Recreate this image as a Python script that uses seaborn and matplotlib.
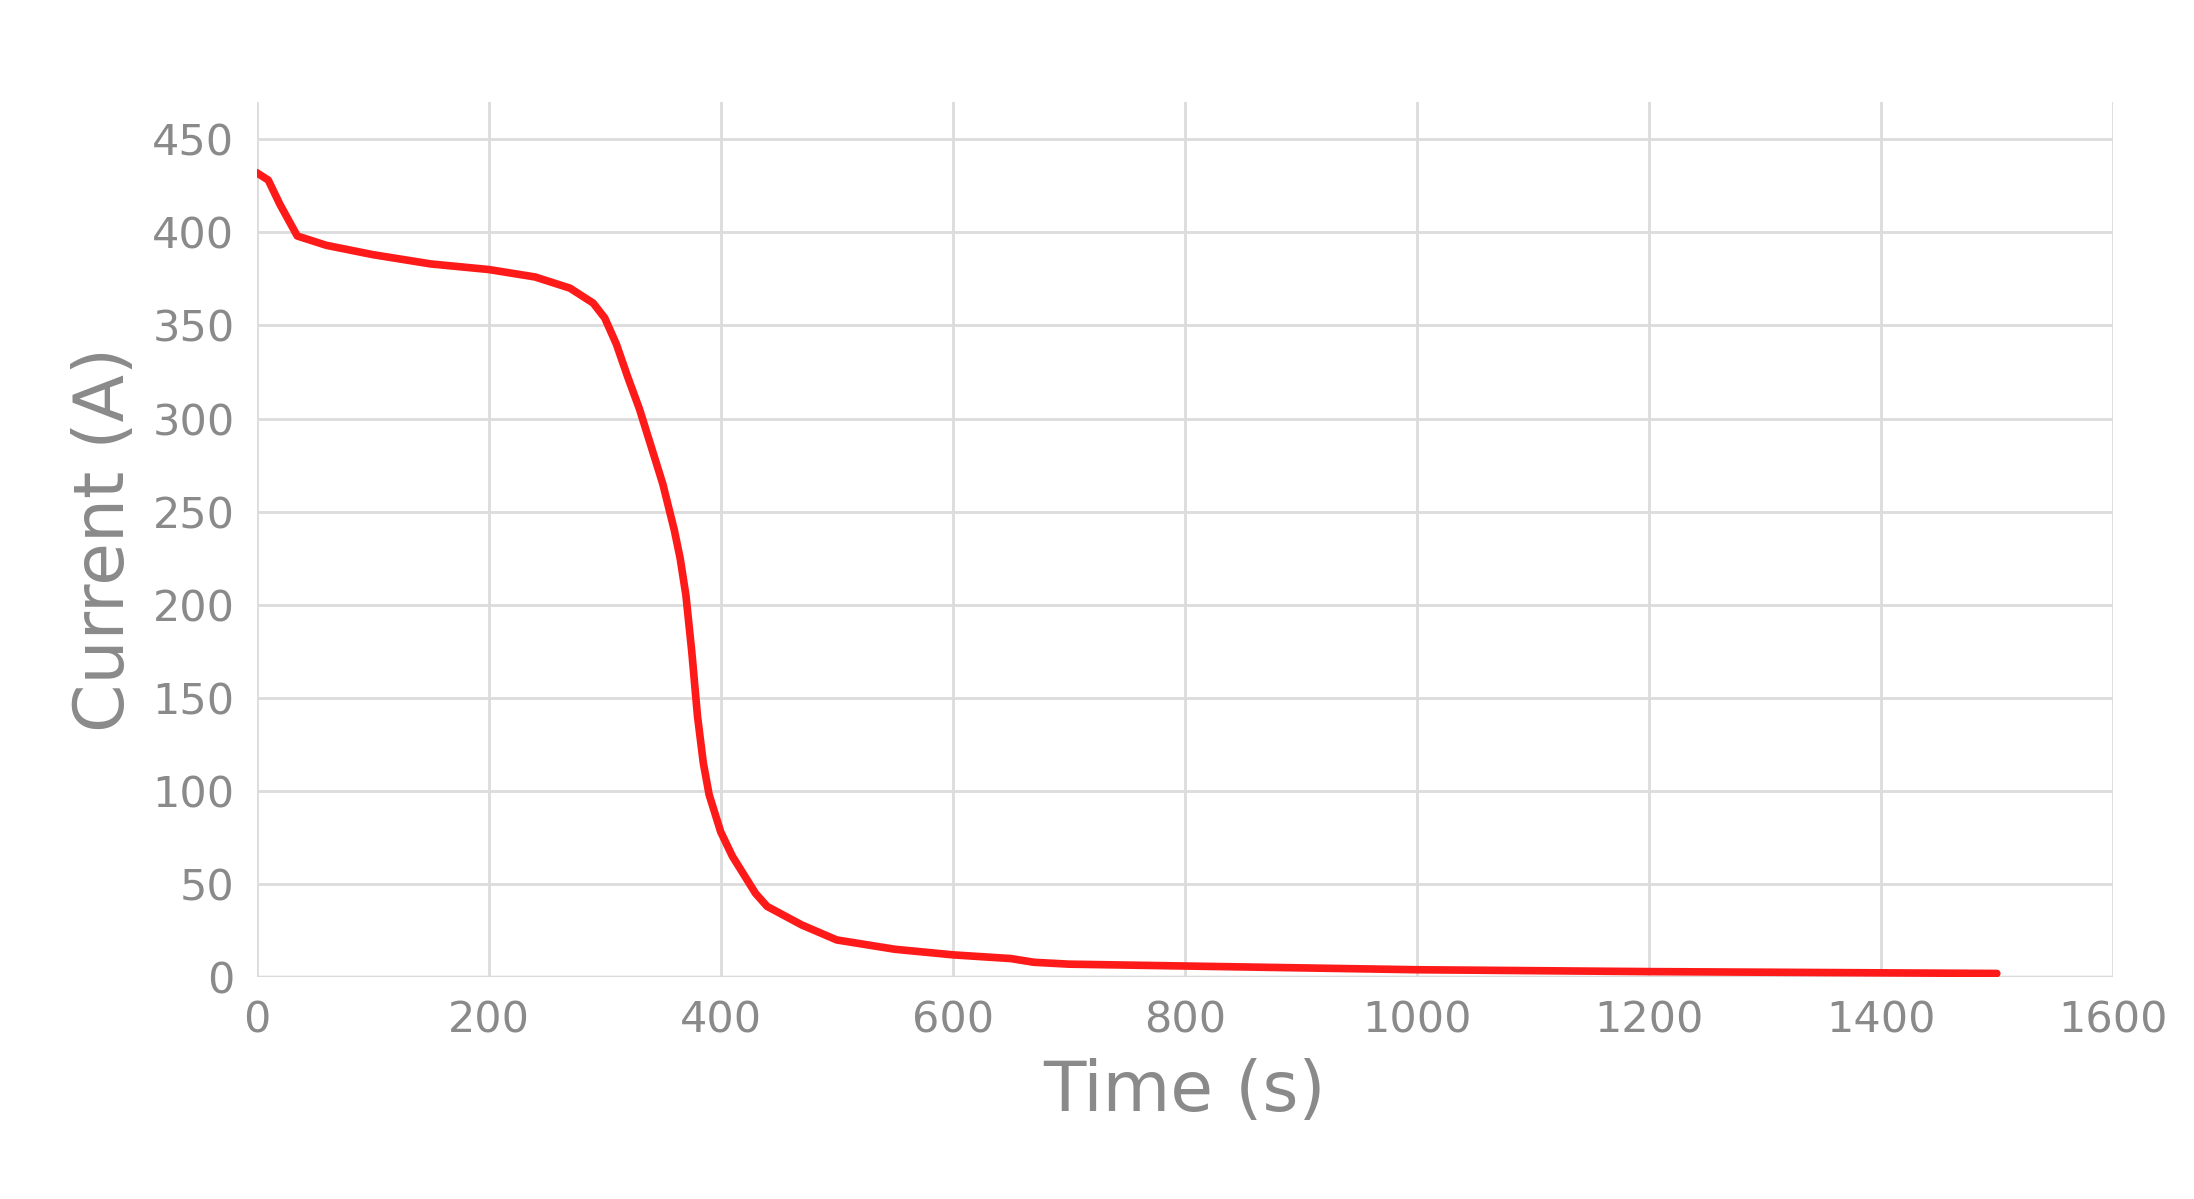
import matplotlib
matplotlib.use("Agg")
import matplotlib.pyplot as plt
import seaborn as sns
import pandas as pd

# values
time_s = [0, 10, 20, 35, 60, 100, 150, 200, 240, 270, 290, 300, 310, 320, 330,
          340, 350, 360, 365, 370, 375, 380, 385, 390, 400, 410, 420, 430, 440,
          470, 500, 550, 600, 650, 670, 700, 800, 1000, 1200, 1500]
current_a = [432, 428, 415, 398, 393, 388, 383, 380, 376, 370, 362, 354, 340,
             322, 305, 285, 265, 240, 225, 205, 175, 140, 115, 98, 78, 65, 55,
             45, 38, 28, 20, 15, 12, 10, 8, 7, 6, 4, 3, 2]
x_ticks = list(range(0, 1601, 200))
y_ticks = list(range(0, 451, 50))

df = pd.DataFrame({"Time (s)": time_s, "Current (A)": current_a})

sns.set_style("white")
fig = plt.figure(figsize=(21.94, 11.99), dpi=100)
ax = fig.add_axes([0.117, 0.185, 0.846, 0.73])

sns.lineplot(data=df, x="Time (s)", y="Current (A)", color="#ff1a1a", lw=5.5, ax=ax)

ax.set_xlim(0, 1600)
ax.set_ylim(0, 470)
ax.set_xticks(x_ticks)
ax.set_yticks(y_ticks)
ax.grid(True, color="#dcdcdc", lw=2)
for s in ax.spines.values():
    s.set_visible(False)
ax.axhline(0, color="#d0d0d0", lw=2.5, zorder=0)

grey = "#8a8a8a"
ax.tick_params(axis="both", labelsize=31, colors=grey, length=0, pad=16)
ax.set_xlabel("Time (s)", fontsize=50, color=grey, labelpad=12)
ax.set_ylabel("Current (A)", fontsize=50, color=grey, labelpad=10)

fig.savefig("out.png", dpi=100)
